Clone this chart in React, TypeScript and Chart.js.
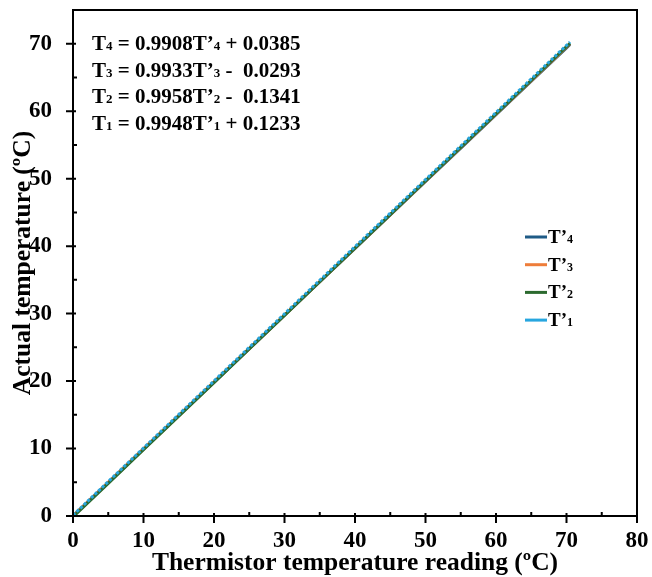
import React, { useEffect, useRef } from "react";
import { Chart, registerables } from "chart.js";

Chart.register(...registerables);

// Thermistor readings (ºC) shared by all four sensors
const readings = [0, 5, 10, 15, 20, 25, 30, 35, 40, 45, 50, 55, 60, 65, 70, 70.5];

// Actual temperature (ºC) against each thermistor reading
const actualT4 = [0.04, 4.99, 9.95, 14.9, 19.85, 24.81, 29.76, 34.72, 39.67, 44.62, 49.58, 54.53, 59.49, 64.44, 69.39, 69.89];
const actualT3 = [-0.03, 4.94, 9.9, 14.87, 19.84, 24.8, 29.77, 34.74, 39.7, 44.67, 49.64, 54.6, 59.57, 64.54, 69.5, 70.0];
const actualT2 = [-0.13, 4.84, 9.82, 14.8, 19.78, 24.76, 29.74, 34.72, 39.7, 44.68, 49.66, 54.64, 59.61, 64.59, 69.57, 70.07];
const actualT1 = [0.12, 5.1, 10.07, 15.05, 20.02, 24.99, 29.97, 34.94, 39.92, 44.89, 49.86, 54.84, 59.81, 64.79, 69.76, 70.26];

const seriesNames = ["T’4", "T’3", "T’2", "T’1"];
const seriesColors = ["#1f5b86", "#ee7d3a", "#2c6a2f", "#27a6df"];
// draw order: lower value is painted on top
const seriesOrder = [3, 2, 1, 0];

// Fit equations: [symbol, subscript, slope term, subscript, offset]
const fitLines = [
  ["T", "4", " = 0.9908T’", "4", " + 0.0385"],
  ["T", "3", " = 0.9933T’", "3", " -  0.0293"],
  ["T", "2", " = 0.9958T’", "2", " -  0.1341"],
  ["T", "1", " = 0.9948T’", "1", " + 0.1233"],
];

const xTicks = [0, 5, 10, 15, 20, 25, 30, 35, 40, 45, 50, 55, 60, 65, 70, 75, 80];
const yTicks = [0, 5, 10, 15, 20, 25, 30, 35, 40, 45, 50, 55, 60, 65, 70, 75];

const FONT = "'Liberation Serif', 'Times New Roman', serif";

function pairs(ys: number[]) {
  return readings.map((x, i) => ({ x, y: ys[i] }));
}

const decorPlugin = {
  id: "decor",
  afterDraw(chart: any) {
    const { ctx, chartArea } = chart;
    const xs = chart.scales.x;
    const ys = chart.scales.y;
    const { left, right, top, bottom } = chartArea;
    ctx.save();
    ctx.strokeStyle = "#000";
    ctx.lineWidth = 2;
    // frame
    ctx.beginPath();
    ctx.moveTo(left, bottom);
    ctx.lineTo(left, top);
    ctx.lineTo(right, top);
    ctx.lineTo(right, bottom);
    ctx.closePath();
    ctx.stroke();
    // ticks: majors cross the axis, minors point inward
    ctx.beginPath();
    xTicks.forEach((v) => {
      const p = xs.getPixelForValue(v);
      if (v % 10 === 0) {
        ctx.moveTo(p, bottom - 3);
        ctx.lineTo(p, bottom + 7);
      } else {
        ctx.moveTo(p, bottom - 4);
        ctx.lineTo(p, bottom);
      }
    });
    yTicks.forEach((v) => {
      const p = ys.getPixelForValue(v);
      if (v % 10 === 0) {
        ctx.moveTo(left + 3, p);
        ctx.lineTo(left - 7, p);
      } else {
        ctx.moveTo(left + 4, p);
        ctx.lineTo(left, p);
      }
    });
    ctx.stroke();

    // equations
    ctx.fillStyle = "#000";
    ctx.textBaseline = "alphabetic";
    ctx.textAlign = "left";
    const big = `bold 21px ${FONT}`;
    const small = `bold 13px ${FONT}`;
    fitLines.forEach((segs, i) => {
      let x = left + 19;
      const y = top + 40 + i * 26.5;
      segs.forEach((s, j) => {
        ctx.font = j % 2 === 1 ? small : big;
        ctx.fillText(s, x, y);
        x += ctx.measureText(s).width;
      });
    });

    // legend
    const lx = left + 452;
    seriesNames.forEach((name, i) => {
      const y = top + 227 + i * 27.7;
      ctx.strokeStyle = seriesColors[i];
      ctx.lineWidth = 3;
      ctx.beginPath();
      ctx.moveTo(lx, y);
      ctx.lineTo(lx + 22, y);
      ctx.stroke();
      ctx.fillStyle = "#000";
      ctx.font = `bold 19px ${FONT}`;
      const main = name.slice(0, 2);
      ctx.fillText(main, lx + 23, y + 6);
      const w = ctx.measureText(main).width;
      ctx.font = `bold 12px ${FONT}`;
      ctx.fillText(name.slice(2), lx + 23 + w, y + 6);
    });
    ctx.restore();
  },
};

export default function App() {
  const ref = useRef<HTMLCanvasElement | null>(null);

  useEffect(() => {
    if (!ref.current) return;
    const data = [actualT4, actualT3, actualT2, actualT1];
    const chart = new Chart(ref.current, {
      type: "line",
      data: {
        datasets: data.map((ys, i) => ({
          label: seriesNames[i],
          data: pairs(ys),
          order: seriesOrder[i],
          borderColor: seriesColors[i],
          backgroundColor: seriesColors[i],
          borderWidth: 3,
          pointRadius: 0,
          borderDash: i === 3 ? [3, 2] : [],
          tension: 0,
        })),
      },
      options: {
        animation: false,
        responsive: true,
        maintainAspectRatio: false,
        layout: { autoPadding: false, padding: { top: 10, right: 15, left: 0, bottom: 0 } },
        plugins: { legend: { display: false }, tooltip: { enabled: false } },
        scales: {
          x: {
            type: "linear",
            min: 0,
            max: 80,
            afterFit: (scale: any) => {
              scale.height = 61;
              scale.paddingLeft = 0;
              scale.paddingRight = 0;
            },
            grid: { display: false },
            border: { display: false },
            ticks: {
              stepSize: 10,
              padding: 3,
              color: "#000",
              font: { family: FONT, size: 23, weight: "bold" },
            },
            title: {
              display: true,
              text: "Thermistor temperature reading (ºC)",
              color: "#000",
              padding: { top: 0, bottom: -2 },
              font: { family: FONT, size: 25.5, weight: "bold" },
            },
          },
          y: {
            type: "linear",
            min: 0,
            max: 75,
            afterFit: (scale: any) => {
              scale.width = 73;
              scale.paddingTop = 0;
              scale.paddingBottom = 0;
            },
            grid: { display: false },
            border: { display: false },
            ticks: {
              stepSize: 5,
              padding: 13,
              color: "#000",
              font: { family: FONT, size: 23, weight: "bold" },
              callback: (v: any) => (Number(v) % 10 === 0 ? String(v) : ""),
            },
            title: {
              display: true,
              text: "Actual temperature (ºC)",
              color: "#000",
              padding: { top: 8, bottom: 0 },
              font: { family: FONT, size: 25.5, weight: "bold" },
            },
          },
        },
      },
      plugins: [decorPlugin],
    });
    return () => chart.destroy();
  }, []);

  return (
    <div style={{ position: "fixed", left: 0, top: 0, width: 652, height: 577, background: "#fff" }}>
      <canvas ref={ref} />
    </div>
  );
}
